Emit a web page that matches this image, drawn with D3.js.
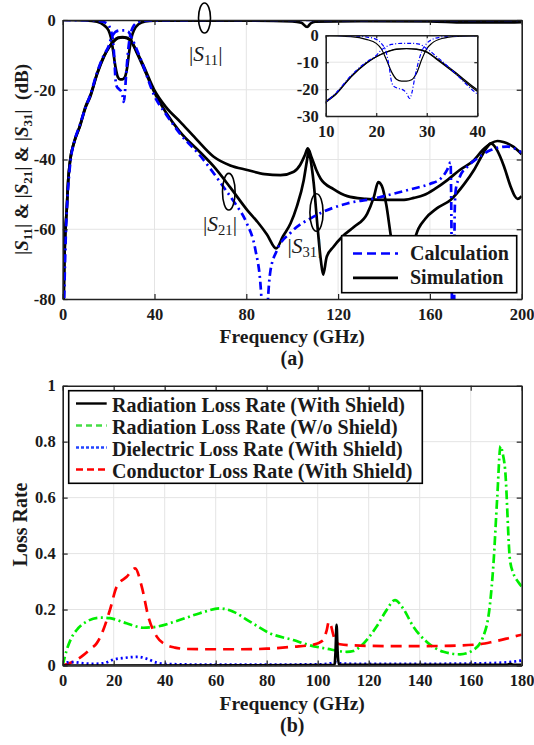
<!DOCTYPE html>
<html>
<head>
<meta charset="utf-8">
<script src="https://cdn.jsdelivr.net/npm/d3@7"></script>
<style>
body { margin: 0; background: #fff; }
svg text { font-family: "Liberation Serif", "Times New Roman", serif; font-weight: bold; fill: #1a1a1a; }
</style>
</head>
<body>
<svg id="chart" width="534" height="745"></svg>
<script>
// ---- panel (a): S-parameters, [frequency GHz, dB] ----
const calcS11 = [[0,0],[10,-0.05],[15,-0.2],[18,-0.6],[20,-1.5],[21,-3],[22,-6.5],[22.5,-11],[23,-17],[23.5,-19],[24.5,-19.8],[25.5,-20.5],[26,-21.5],[26.6,-23.5],[27.1,-21],[27.6,-16],[28.2,-11],[29,-6],[30,-3],[31,-1.6],[33,-0.6],[36,-0.2],[40,-0.1],[60,0],[200,0]]
const calcS21 = [[0.5,-85],[1,-70],[1.7,-56],[2.5,-47],[3.5,-40],[5,-35],[7.5,-30],[10,-25],[12,-21.5],[15,-15],[18,-10],[20,-7.5],[21,-5.5],[22,-4.2],[23,-3.4],[25,-3],[27,-3],[28.5,-3.3],[30,-5],[32,-8],[35,-13],[40,-21.8],[45,-27],[51,-32.5],[60,-39],[70,-47.8],[75,-52.5],[80,-58],[84,-66],[86.2,-76],[87.5,-90],[88.3,-100],[89.3,-82],[90.5,-72],[93.4,-66],[99.3,-61],[109.3,-56.4],[124,-52.6],[135.5,-51.2],[138.7,-50.7],[153,-48.3],[160,-47],[164.8,-45.4],[167.5,-43],[169,-40.8],[169.4,-60],[169.8,-100],[170.4,-100],[170.8,-55],[171.3,-48.5],[173,-45],[176.4,-42],[180,-40],[186.5,-37.3],[193.8,-36.3],[200,-38]]
const simS11 = [[0,0],[10,-0.1],[15,-0.5],[18,-1.5],[20,-3],[21,-5],[22,-9],[23,-13.5],[24,-16.3],[25,-17],[26,-17],[27,-16.5],[28,-14],[29,-9],[30,-5],[31,-3],[33,-1.2],[36,-0.4],[40,-0.2],[80,-0.2],[100,-0.4],[104,-0.8],[106.5,-2],[108,-1],[110,-0.5],[130,-0.3],[160,-0.4],[175,-0.7],[190,-0.7],[200,-0.6]]
const simS21 = [[0.3,-85],[0.7,-70],[1.2,-60],[1.7,-55],[2.4,-46],[3.2,-40.5],[5,-35],[7.5,-30.5],[10,-25],[12,-22],[15,-15.5],[18,-10.5],[20,-8],[22,-6.3],[24,-5.2],[26,-5],[28,-5.2],[30,-6.3],[32,-9],[35,-13.3],[40,-20.8],[45,-26.5],[51,-32],[60,-38],[65.8,-42],[73,-48],[80.4,-54.5],[85,-58],[89,-61.5],[93,-65.5],[96,-62],[99.3,-58.3],[102,-53.5],[105,-46],[106.5,-40],[107.2,-37.3],[108,-40],[109.4,-47],[111,-59],[112.5,-69],[113.5,-73],[115,-68],[118,-65],[122,-62],[127,-59.3],[132.7,-55.5],[135.6,-50.7],[137.5,-46.5],[139,-47.5],[141,-53],[143,-62],[146,-72],[149,-76],[151.5,-70],[153.8,-62],[158,-57],[163,-54],[169,-51.6],[175,-47],[179.2,-43],[183,-38.5],[185,-36.4],[186.5,-35.4],[188.5,-36.5],[190.5,-39],[192.3,-42],[195.2,-47.8],[197,-50.5],[198.2,-51.3],[200,-50.5]]
const simS31 = [[0.3,-85],[0.7,-70],[1.2,-60],[1.7,-55],[2.4,-46],[3.2,-40.5],[5,-35],[7.5,-30.3],[10,-24.7],[12,-21.7],[15,-15.3],[18,-10.3],[20,-8],[22,-6.2],[24,-5.1],[26,-4.9],[28,-5.1],[30,-6.1],[32,-8.7],[35,-12.8],[40,-20.2],[45,-25],[51.2,-29.2],[58,-34],[65.8,-39.2],[73,-41.7],[80.4,-43],[88,-44.2],[94.9,-44.5],[100.7,-43.5],[103.5,-41.5],[105.5,-38.8],[106.8,-36.8],[108.5,-39.5],[110.5,-43],[112.4,-45.5],[118,-48.5],[124,-50.5],[132,-51.3],[140,-51.6],[148,-51.6],[153,-51],[157.4,-50.2],[162,-48.5],[167.6,-45.9],[173,-43],[179.2,-40.2],[183,-37.3],[186.5,-35.4],[189.4,-34.7],[192,-35],[196.5,-36.4],[200,-38.5]]

const topXTicks = [0,40,80,120,160,200]
const topYTicks = [0,-20,-40,-60,-80]
const insetXTicks = [10,20,30,40]
const insetYTicks = [0,-10,-20,-30]
const topLegendNames = ["Calculation","Simulation"]

// ---- panel (b): loss rates, [frequency GHz, rate] ----
const radWithShield = [[0,0],[100,0.001],[106.6,0.002],[107,0.05],[107.4,0.145],[107.8,0.05],[108.3,0.002],[174,0.002],[175.5,0.006],[177,0.002],[180,0.002]]
const radNoShield = [[0,0],[1.6,0.056],[3.5,0.1],[5.5,0.127],[9.4,0.157],[14.6,0.171],[18.5,0.169],[25,0.151],[31.6,0.135],[36.9,0.139],[44.7,0.159],[53.8,0.187],[61.7,0.204],[66.9,0.192],[73.4,0.157],[81.3,0.115],[90.4,0.091],[97,0.072],[103.5,0.06],[111.4,0.049],[114,0.052],[116.6,0.067],[120,0.1],[123.1,0.139],[127,0.198],[130.3,0.234],[133.5,0.204],[137.5,0.139],[142.7,0.085],[149.3,0.049],[155.8,0.04],[161,0.055],[164.9,0.103],[167.6,0.222],[168.9,0.36],[170.4,0.6],[171.7,0.784],[172.5,0.76],[173.5,0.7],[175.4,0.377],[176.7,0.33],[178.5,0.3],[180,0.282]]
const dielectricLoss = [[0,0],[1.6,0.011],[4,0.012],[8,0.008],[12,0.006],[16,0.008],[19.8,0.021],[24,0.027],[29.6,0.031],[33,0.024],[36.9,0.01],[42,0.005],[60,0.003],[100,0.004],[105,0.008],[107,0.012],[109,0.008],[115,0.006],[140,0.006],[165,0.008],[175,0.012],[180,0.018]]
const conductorLoss = [[0,0],[4.2,0.014],[8.1,0.037],[11,0.06],[13.3,0.079],[15.9,0.127],[18.5,0.198],[21.2,0.282],[25.1,0.317],[28.4,0.347],[31,0.282],[33.6,0.174],[36.9,0.103],[40.8,0.073],[44,0.064],[48.6,0.059],[59.1,0.058],[70,0.058],[80,0.06],[90.4,0.067],[98,0.074],[102.2,0.091],[103.5,0.125],[104.4,0.157],[105.3,0.14],[106.1,0.11],[107.2,0.085],[108.7,0.076],[116.6,0.071],[130,0.069],[150,0.07],[163.6,0.076],[168.9,0.085],[174,0.096],[176.7,0.103],[180,0.11]]

const botXTicks = [0,20,40,60,80,100,120,140,160,180]
const botYTicks = [0,0.2,0.4,0.6,0.8,1]
const botLegendNames = ["Radiation Loss Rate (With Shield)","Radiation Loss Rate (W/o Shield)","Dielectric Loss Rate (With Shield)","Conductor Loss Rate (With Shield)"]

const axisColor = "#222"
const gridColor = "#e4e4e4"

svg = d3.select("#chart")
defs = svg.append("defs")

function addClip(id, x, y){
    defs.append("clipPath").attr("id", id).append("rect")
        .attr("x", x.range()[0]).attr("y", y.range()[1])
        .attr("width", x.range()[1]-x.range()[0])
        .attr("height", y.range()[0]-y.range()[1])
}

// grid, box and inward ticks, MATLAB style
function drawGrid(g, x, y, xTicks, yTicks){
    g.selectAll(".gx").data(xTicks).enter().append("line")
        .attr("x1", d=>x(d)).attr("x2", d=>x(d))
        .attr("y1", y.range()[0]).attr("y2", y.range()[1])
        .attr("stroke", gridColor).attr("stroke-width", 1)
    g.selectAll(".gy").data(yTicks).enter().append("line")
        .attr("x1", x.range()[0]).attr("x2", x.range()[1])
        .attr("y1", d=>y(d)).attr("y2", d=>y(d))
        .attr("stroke", gridColor).attr("stroke-width", 1)
}

function drawAxes(g, x, y, xTicks, yTicks, tickLen, fontSize){
    var fmt = d => String(d)
    var bottom = g.append("g").attr("transform","translate(0,"+y.range()[0]+")")
        .call(d3.axisBottom(x).tickValues(xTicks).tickSize(-tickLen).tickSizeOuter(0).tickPadding(9).tickFormat(fmt))
    var top = g.append("g").attr("transform","translate(0,"+y.range()[1]+")")
        .call(d3.axisTop(x).tickValues(xTicks).tickSize(-tickLen).tickSizeOuter(0).tickFormat(""))
    var left = g.append("g").attr("transform","translate("+x.range()[0]+",0)")
        .call(d3.axisLeft(y).tickValues(yTicks).tickSize(-tickLen).tickSizeOuter(0).tickPadding(7).tickFormat(fmt))
    var right = g.append("g").attr("transform","translate("+x.range()[1]+",0)")
        .call(d3.axisRight(y).tickValues(yTicks).tickSize(-tickLen).tickSizeOuter(0).tickFormat(""))
    for (const a of [bottom, top, left, right]) {
        a.select(".domain").attr("stroke", axisColor).attr("stroke-width", 1.6)
        a.selectAll(".tick line").attr("stroke", axisColor).attr("stroke-width", 1.2)
        a.selectAll("text").style("font-size", fontSize+"px").attr("fill", axisColor)
    }
}

function drawSeries(g, x, y, rows, color, width, dash, clipId){
    var line = d3.line().x(d=>x(d[0])).y(d=>y(d[1])).curve(d3.curveMonotoneX)
    g.append("path").datum(rows)
        .attr("d", line)
        .attr("fill","none")
        .attr("stroke", color)
        .attr("stroke-width", width)
        .attr("stroke-dasharray", dash)
        .attr("stroke-linejoin","round")
        .attr("clip-path","url(#"+clipId+")")
}

// S-label with italic S and subscript
function sLabel(t, sub){
    t.append("tspan").text("|")
    t.append("tspan").style("font-style","italic").text("S")
    t.append("tspan").attr("dy", 4).style("font-size","0.68em").text(sub)
    t.append("tspan").attr("dy", -4).text("|")
}

// ================= panel (a) =================
topX = d3.scaleLinear().domain([0,200]).range([62.7,521.7])
topY = d3.scaleLinear().domain([-80,0]).range([299,20])
addClip("clipTop", topX, topY)

topG = svg.append("g")
drawGrid(topG, topX, topY, topXTicks.slice(1,-1), topYTicks.slice(1,-1))

const calcDash = "8,4,2,4"
drawSeries(topG, topX, topY, simS11, "#000", 2.7, null, "clipTop")
drawSeries(topG, topX, topY, simS21, "#000", 2.7, null, "clipTop")
drawSeries(topG, topX, topY, simS31, "#000", 2.7, null, "clipTop")
drawSeries(topG, topX, topY, calcS11, "#0000ff", 2.7, calcDash, "clipTop")
drawSeries(topG, topX, topY, calcS21, "#0000ff", 2.7, calcDash, "clipTop")

drawAxes(topG, topX, topY, topXTicks, topYTicks, 5, 16.5)

// annotations
topG.append("ellipse").attr("cx",204.5).attr("cy",18).attr("rx",6).attr("ry",15)
    .attr("fill","none").attr("stroke","#000").attr("stroke-width",1.6)
topG.append("ellipse").attr("cx",228.8).attr("cy",191.7).attr("rx",6.3).attr("ry",18.3)
    .attr("fill","none").attr("stroke","#000").attr("stroke-width",1.6)
topG.append("ellipse").attr("cx",316.5).attr("cy",212.5).attr("rx",6.6).attr("ry",18.8)
    .attr("fill","none").attr("stroke","#000").attr("stroke-width",1.6)

var annot = [["11",189,61],["21",203,231],["31",287.5,253]]
for (const [sub, ax, ay] of annot) {
    var t = topG.append("text").attr("x",ax).attr("y",ay)
        .style("font-size","21.5px").style("font-weight","normal")
    sLabel(t, sub)
}

// inset
insetX = d3.scaleLinear().domain([10,40]).range([325.7,477.3])
insetY = d3.scaleLinear().domain([-30,0]).range([116,35.3])
addClip("clipInset", insetX, insetY)
insetG = svg.append("g")
insetG.append("rect").attr("x",insetX.range()[0]).attr("y",insetY.range()[1])
    .attr("width",insetX.range()[1]-insetX.range()[0]).attr("height",insetY.range()[0]-insetY.range()[1])
    .attr("fill","#fff")
drawGrid(insetG, insetX, insetY, insetXTicks.slice(1,-1), insetYTicks.slice(1,-1))
drawSeries(insetG, insetX, insetY, simS11, "#000", 1.2, null, "clipInset")
drawSeries(insetG, insetX, insetY, simS21, "#000", 1.2, null, "clipInset")
drawSeries(insetG, insetX, insetY, simS31, "#000", 1.2, null, "clipInset")
drawSeries(insetG, insetX, insetY, calcS11, "#0000ff", 1.2, "4,2,1,2", "clipInset")
drawSeries(insetG, insetX, insetY, calcS21, "#0000ff", 1.2, "4,2,1,2", "clipInset")
drawAxes(insetG, insetX, insetY, insetXTicks, insetYTicks, 3, 16.5)

// legend (a)
legA = svg.append("g")
legA.append("rect").attr("x",341.7).attr("y",235.7).attr("width",175).attr("height",57)
    .attr("fill","#fff").attr("stroke","#000").attr("stroke-width",1.6)
var legAItems = legA.selectAll(".item").data(topLegendNames).enter().append("g")
    .attr("transform",(d,i)=>"translate(0,"+(253.5+i*24.3)+")")
legAItems.append("line").attr("x1",353).attr("x2",398).attr("y1",0).attr("y2",0)
    .attr("stroke",(d,i)=> i==0 ? "#0000ff" : "#000")
    .attr("stroke-width",2.7)
    .attr("stroke-dasharray",(d,i)=> i==0 ? "9,5" : null)
legAItems.append("text").attr("x",410).attr("y",6.5).style("font-size","20px").text(d=>d)

// axis titles (a)
svg.append("text").attr("x",292.2).attr("y",343).attr("text-anchor","middle")
    .style("font-size","19.5px").text("Frequency (GHz)")
svg.append("text").attr("x",292.2).attr("y",365).attr("text-anchor","middle")
    .style("font-size","20px").text("(a)")

yLab = svg.append("text").attr("transform","translate(28,159.5) rotate(-90)")
    .attr("text-anchor","middle").style("font-size","19px").style("white-space","pre")
sLabel(yLab, "11")
yLab.append("tspan").text(" & ")
sLabel(yLab, "21")
yLab.append("tspan").text(" & ")
sLabel(yLab, "31")
yLab.append("tspan").text("  (dB)")

// ================= panel (b) =================
botX = d3.scaleLinear().domain([0,180]).range([62.7,521.7])
botY = d3.scaleLinear().domain([0,1]).range([665.5,385.7])
addClip("clipBot", botX, botY)

botG = svg.append("g")
drawGrid(botG, botX, botY, botXTicks.slice(1,-1), botYTicks.slice(1,-1))

// drawn back to front
const botSeries = [
    {rows: radNoShield, color: "#00ee00", dash: "9,3.5,2,3.5"},
    {rows: conductorLoss, color: "#ff0000", dash: "11,7"},
    {rows: dielectricLoss, color: "#0000ff", dash: "2,3"},
    {rows: radWithShield, color: "#000", dash: null}
]
for (const s of botSeries)
    drawSeries(botG, botX, botY, s.rows, s.color, 2.7, s.dash, "clipBot")

drawAxes(botG, botX, botY, botXTicks, botYTicks, 5, 16.5)

// legend (b)
legB = svg.append("g")
legB.append("rect").attr("x",68.7).attr("y",390.7).attr("width",353.6).attr("height",92.6)
    .attr("fill","#fff").attr("stroke","#000").attr("stroke-width",1.6)
var legBItems = legB.selectAll(".item").data(botLegendNames).enter().append("g")
    .attr("transform",(d,i)=>"translate(0,"+(403.5+i*22)+")")
legBItems.append("line").attr("x1",76).attr("x2",106.7).attr("y1",0).attr("y2",0)
    .attr("stroke",(d,i)=>["#000","#44dd44","#2244ff","#ff0000"][i])
    .attr("stroke-width",2.4)
    .attr("stroke-dasharray",(d,i)=>[null,"6,4","3,2","7,4"][i])
legBItems.append("text").attr("x",112).attr("y",8).style("font-size","20px").text(d=>d)

// axis titles (b)
svg.append("text").attr("x",292.2).attr("y",710).attr("text-anchor","middle")
    .style("font-size","19.5px").text("Frequency (GHz)")
svg.append("text").attr("x",292.2).attr("y",732).attr("text-anchor","middle")
    .style("font-size","20px").text("(b)")
svg.append("text").attr("transform","translate(27,524.5) rotate(-90)")
    .attr("text-anchor","middle").style("font-size","20px").text("Loss Rate")
</script>
</body>
</html>
